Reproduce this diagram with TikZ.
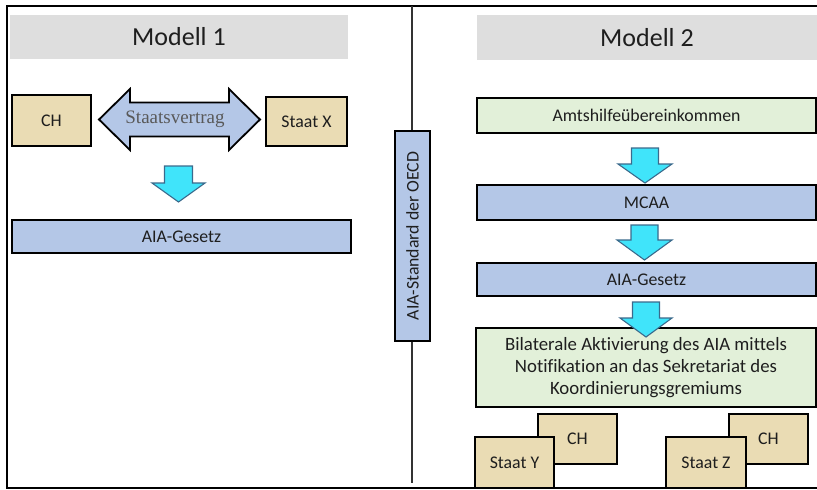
\documentclass[tikz,border=0pt]{standalone}
\usepackage{fontspec}
\setmainfont{Carlito}[Ligatures=NoCommon]
\newfontfamily\treatyfont{Liberation Serif}

\definecolor{hdrgray}{HTML}{DEDEDE}
\definecolor{tan}{HTML}{EADCB4}
\definecolor{lblue}{HTML}{B4C7E7}
\definecolor{lgreen}{HTML}{E2F0D9}
\definecolor{cyanfill}{HTML}{40E4FA}
\definecolor{cyanline}{HTML}{3A6A8C}
\definecolor{txt}{HTML}{1E1E1E}

\tikzset{
  hdr/.style={fill=hdrgray, draw=none, inner sep=0pt, text=txt,
              font=\fontsize{26}{30}\selectfont},
  box/.style={draw=black, line width=1.5pt, inner sep=0pt, align=center,
              text=txt, font=\fontsize{17.8}{21.7}\selectfont},
  tanbox/.style={box, fill=tan},
  bluebox/.style={box, fill=lblue},
  greenbox/.style={box, fill=lgreen},
  blockarrow/.style={fill=cyanfill, draw=cyanline, line width=1.1pt, line join=miter},
  treatyarrow/.style={fill=lblue, draw=black, line width=1.8pt, line join=miter},
  framelines/.style={line width=2.2pt, black},
  % downward block arrow: head half width, shaft half width, length, head length
  pics/blockdown/.style n args={4}{code={
    \path[blockarrow]
      (-#2,-#3/2) -- (#2,-#3/2) -- (#2,#3/2-#4) -- (#1,#3/2-#4) -- (0,#3/2)
      -- (-#1,#3/2-#4) -- (-#2,#3/2-#4) -- cycle;
  }},
  % horizontal two-headed block arrow: half length, head half width, shaft half width, head length
  pics/blockboth/.style n args={4}{code={
    \path[treatyarrow]
      (-#1,0) -- (-#1+#4,-#2) -- (-#1+#4,-#3) -- (#1-#4,-#3) -- (#1-#4,-#2)
      -- (#1,0) -- (#1-#4,#2) -- (#1-#4,#3) -- (-#1+#4,#3) -- (-#1+#4,#2) -- cycle;
  }},
}

\begin{document}
\begin{tikzpicture}[x=1pt, y=-1pt]
\useasboundingbox (0,0) rectangle (817,490);

% frame (open on the right)
\draw[framelines] (817,6) -- (7,6) -- (7,488) -- (817,488);

% separating axis with the OECD standard
\coordinate (axtop) at (412,6);
\coordinate (axbot) at (412,483);
\draw[line width=2.5pt, black!80] (axtop) -- (axbot);
\node[bluebox, minimum width=35pt, minimum height=210pt] (oecd) at (412.5,236)
  {\rotatebox{90}{AIA-Standard der OECD}};

% ---------- Modell 1 ----------
\node[hdr, minimum width=338pt, minimum height=44pt] (h1) at (179,37) {Modell 1};
\node[tanbox, minimum width=79pt, minimum height=51pt] (ch1) at (51.5,120.5) {CH};
\node[tanbox, minimum width=81pt, minimum height=49pt] (sx) at (306.5,121.5) {Staat X};
\pic (treaty) at (179.5,119.5) {blockboth={80.5}{30.5}{17}{31}};
\node[text=black!65, inner sep=0pt, font=\treatyfont\fontsize{19}{22}\selectfont]
  (treatylbl) at (175,119) {Staatsvertrag};
\pic (a1) at (178.5,184) {blockdown={26.5}{14}{36}{19}};
\node[bluebox, minimum width=339pt, minimum height=33pt] (g1) at (181.5,236.5) {AIA-Gesetz};

% ---------- Modell 2 ----------
\node[hdr, minimum width=340pt, minimum height=45pt] (h2) at (647,37.5) {Modell 2};
\node[greenbox, minimum width=339pt, minimum height=35pt] (amt) at (646.5,115.5) {Amtshilfeübereinkommen};
\pic (a2) at (645,165.5) {blockdown={27}{13.5}{35}{19}};
\node[bluebox, minimum width=339pt, minimum height=35pt] (mcaa) at (646.5,202.5) {MCAA};
\pic (a3) at (644.5,242.5) {blockdown={27.5}{13.5}{35}{20}};
\node[bluebox, minimum width=339pt, minimum height=33pt] (g2) at (646.5,279.5) {AIA-Gesetz};
\node[greenbox, minimum width=340pt, minimum height=79pt,
      font=\fontsize{18.8}{21.7}\selectfont] (bil) at (646,367.5)
  {Bilaterale Aktivierung des AIA mittels\\Notifikation an das Sekretariat des\\Koordinierungsgremiums};
\pic (a4) at (646,319.5) {blockdown={26}{13.5}{35}{19}};

% partner pairs
\node[tanbox, minimum width=79pt, minimum height=50pt] (chy) at (577.5,439) {CH};
\node[tanbox, minimum width=79pt, minimum height=51pt] (sy) at (514.5,462.5) {Staat Y};
\node[tanbox, minimum width=79pt, minimum height=50pt] (chz) at (768.5,439) {CH};
\node[tanbox, minimum width=80pt, minimum height=51pt] (sz) at (706,462.5) {Staat Z};

% bottom edge of the frame over the partner boxes
\draw[framelines] (7,488) -- (817,488);
\end{tikzpicture}
\end{document}
